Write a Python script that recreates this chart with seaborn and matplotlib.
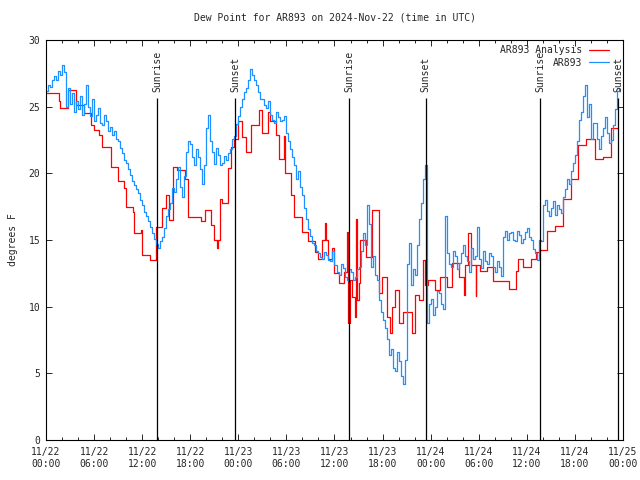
import matplotlib
matplotlib.use("Agg")
import matplotlib.pyplot as plt
import matplotlib.dates as mdates
import seaborn as sns
import numpy as np
import pandas as pd

start = pd.Timestamp("2024-11-22 00:00")

# AR893 observations, every quarter hour from 11/22 00:00 (degrees F)
# one row per hour
obs_values = [
    26.2, 26.6, 26.5, 27.0,  # 0
    27.3, 27.0, 27.7, 27.4,
    28.1, 27.6, 25.0, 26.4,
    25.2, 26.0, 24.6, 25.4,
    24.8, 25.8, 24.4, 25.2,
    26.6, 25.0, 24.3, 25.6,  # 5
    23.9, 24.4, 24.9, 23.8,
    23.6, 24.4, 23.9, 23.2,
    23.5, 22.9, 23.2, 22.6,
    22.4, 21.9, 21.5, 21.0,
    20.8, 20.3, 19.9, 19.4,  # 10
    19.1, 18.8, 18.5, 18.0,
    17.6, 17.1, 16.8, 16.4,
    16.0, 15.5, 15.1, 14.7,
    14.4, 14.9, 15.2, 15.9,
    16.8, 17.3, 17.8, 18.9,  # 15
    18.6, 19.6, 20.5, 19.0,
    18.2, 19.8, 21.6, 22.4,
    22.2, 21.2, 20.6, 21.8,
    21.2, 20.3, 19.2, 20.6,
    23.4, 24.4, 22.4, 21.6,  # 20
    20.7, 21.9, 21.4, 20.6,
    20.8, 21.3, 21.0, 21.5,
    21.8, 22.6, 22.8, 23.7,
    24.3, 25.0, 25.6, 26.1,
    26.4, 27.0, 27.8, 27.4,  # 25
    27.0, 26.6, 26.1, 25.6,
    25.6, 25.1, 24.9, 25.4,
    24.4, 24.0, 23.8, 24.6,
    24.2, 23.9, 24.0, 24.3,
    23.0, 22.4, 21.8, 21.2,  # 30
    20.6, 19.6, 20.2, 19.0,
    18.4, 17.4, 16.6, 15.8,
    15.3, 14.8, 14.6, 14.2,
    14.0, 13.7, 13.6, 14.1,
    13.9, 13.5, 13.4, 14.2,  # 35
    13.1, 12.6, 12.4, 13.2,
    12.9, 12.2, 12.0, 12.8,
    12.6, 12.0, 12.2, 12.8,
    13.0, 14.2, 15.5, 14.6,
    17.6, 16.2, 13.0, 13.8,  # 40
    12.4, 12.0, 10.5, 9.6,
    9.0, 8.4, 7.6, 6.4,
    6.8, 5.4, 5.2, 6.6,
    5.9, 4.8, 4.2, 6.0,
    13.2, 14.8, 11.6, 12.8,  # 45
    12.4, 14.6, 16.6, 17.8,
    19.6, 20.6, 8.8, 10.2,
    10.6, 9.4, 10.0, 11.2,
    11.0, 10.2, 9.8, 16.8,
    14.0, 13.2, 13.0, 14.2,  # 50
    13.8, 12.8, 13.3, 14.0,
    14.6, 13.8, 13.4, 12.6,
    14.4, 13.6, 13.8, 16.0,
    13.6, 12.9, 14.2, 13.4,
    13.2, 14.0, 13.8, 13.0,  # 55
    12.6, 13.4, 13.0, 12.3,
    15.2, 15.7, 15.0, 15.5,
    15.6, 15.0, 14.9, 15.7,
    15.4, 14.8, 15.1, 15.6,
    15.9, 15.2, 15.0, 14.3,  # 60
    14.0, 13.5, 15.0, 14.9,
    17.6, 18.0, 17.2, 16.8,
    17.4, 17.9, 16.9, 17.6,
    17.3, 17.0, 18.2, 18.8,
    19.6, 19.2, 20.2, 20.8,  # 65
    21.4, 22.4, 24.0, 24.6,
    25.8, 26.6, 24.2, 25.2,
    22.6, 23.8, 23.8, 22.6,
    21.8, 22.8, 23.4, 24.2,
    23.0, 22.3, 22.5, 23.6,  # 70
    24.8, 26.2, 26.4,
]
obs_hours = [0.25 * i for i in range(len(obs_values))]

# AR893 Analysis: hours since start where the value changes, and the value
ana_hours = [
    0.0, 1.6, 1.8, 2.7, 3.7, 4.8, 5.6, 6.0, 6.6, 7.0,
    8.1, 9.0, 9.7, 10.0, 10.8, 11.0, 11.8, 12.0, 13.0, 13.7,
    14.5, 15.0, 15.4, 15.8, 16.4, 17.4, 17.7, 19.4, 19.8, 20.6,
    21.0, 21.3, 21.5, 21.7, 21.9, 22.7, 23.1, 23.5, 23.9, 24.5,
    25.0, 25.6, 26.6, 26.9, 27.7, 27.9, 28.7, 29.1, 29.7, 29.8,
    30.6, 31.0, 31.9, 32.7, 33.6, 34.0, 34.4, 34.8, 35.0, 35.2,
    35.7, 36.0, 36.6, 37.2, 37.6, 37.7, 37.9, 38.2, 38.5, 38.7,
    38.8, 39.0, 39.2, 39.9, 40.7, 41.5, 41.9, 42.6, 42.9, 43.2,
    43.6, 44.0, 44.6, 45.7, 46.1, 46.5, 47.0, 47.3, 47.7, 48.6,
    49.2, 50.0, 50.6, 51.5, 52.2, 52.3, 52.6, 53.0, 53.6, 53.7,
    54.2, 55.0, 55.8, 57.8, 58.6, 58.9, 59.5, 60.5, 61.1, 61.7,
    62.5, 63.5, 64.5, 65.5, 66.4, 67.4, 68.5, 69.5, 70.5, 71.3,
]
ana_values = [
    26.0, 25.4, 24.9, 26.25, 25.1, 24.5, 23.6, 23.25, 22.9, 22.0,
    20.5, 19.4, 18.9, 17.5, 17.1, 15.5, 15.75, 13.9, 13.5, 16.0,
    17.4, 18.4, 16.5, 20.5, 20.25, 19.6, 16.75, 16.4, 17.25, 16.1,
    15.0, 14.4, 15.0, 18.1, 17.75, 20.4, 22.0, 22.6, 23.9, 22.75,
    21.6, 23.6, 24.75, 23.0, 24.6, 23.9, 22.9, 21.1, 22.8, 20.0,
    18.4, 16.75, 15.6, 14.9, 14.1, 13.6, 15.0, 16.25, 15.0, 13.6,
    14.4, 12.5, 11.8, 12.6, 15.6, 8.75, 12.0, 10.75, 9.25, 16.6,
    10.5, 11.75, 15.0, 13.75, 17.25, 11.0, 12.25, 9.25, 8.0, 10.0,
    11.25, 8.75, 9.6, 8.0, 10.9, 10.5, 13.5, 11.6, 12.0, 11.25,
    12.25, 11.45, 13.25, 12.25, 10.9, 13.1, 15.5, 13.1, 10.8, 13.1,
    12.7, 13.0, 11.9, 11.3, 12.7, 13.6, 13.0, 13.6, 14.1, 14.25,
    15.7, 16.05, 18.1, 19.6, 22.1, 22.6, 21.05, 21.2, 23.4, 23.4,
]

# sunrise / sunset events (hours since start)
sun_hours = [13.86, 23.6, 37.87, 47.4, 61.7, 71.4]
sun_labels = ["Sunrise", "Sunset", "Sunrise", "Sunset", "Sunrise", "Sunset"]

obs = pd.DataFrame({"time": start + pd.to_timedelta(obs_hours, unit="h"),
                    "dewpoint": obs_values})
ana = pd.DataFrame({"time": start + pd.to_timedelta(ana_hours, unit="h"),
                    "dewpoint": ana_values})

sns.set_style("ticks")
plt.rcParams["font.family"] = ["DejaVu Sans Mono"]
plt.rcParams["font.size"] = 7

fig = plt.figure(figsize=(6.4, 4.8), dpi=100)
ax = fig.add_axes([46 / 640, 40 / 480, 577 / 640, 400 / 480])

sns.lineplot(data=ana, x="time", y="dewpoint", ax=ax, color="#ff0000",
             lw=0.9, drawstyle="steps-post", label="AR893 Analysis")
sns.lineplot(data=obs, x="time", y="dewpoint", ax=ax, color="#1e90ff",
             lw=0.9, drawstyle="steps-post", label="AR893")

for h, lab in zip(sun_hours, sun_labels):
    t = start + pd.Timedelta(hours=h)
    ax.vlines(t, 0, 25.65, color="black", lw=0.9)
    ax.text(t, 26.1, lab, rotation=90, ha="center", va="bottom", fontsize=7)

ax.set_xlim(start, start + pd.Timedelta(hours=72))
ax.set_ylim(0, 30)
ax.set_yticks([0, 5, 10, 15, 20, 25, 30])
ax.xaxis.set_major_locator(mdates.HourLocator(byhour=[0, 6, 12, 18]))
ax.xaxis.set_minor_locator(mdates.HourLocator(byhour=range(0, 24, 2)))
ax.xaxis.set_major_formatter(mdates.DateFormatter("%m/%d\n%H:%M"))
ax.tick_params(which="both", direction="in", top=True, right=True,
               width=0.7, labelsize=7)
ax.tick_params(which="major", length=4)
ax.tick_params(which="minor", length=2)
ax.tick_params(axis="x", pad=5)
ax.tick_params(axis="y", pad=4)
for s in ax.spines.values():
    s.set_linewidth(0.8)
    s.set_color("black")

ax.set_xlabel("")
ax.set_ylabel("degrees F", fontsize=7, labelpad=8)
ax.set_title("Dew Point for AR893 on 2024-Nov-22 (time in UTC)",
             fontsize=7, pad=14)

ax.legend(loc="upper right", bbox_to_anchor=(0.9757, 0.9875), frameon=False,
          markerfirst=False, borderpad=0, borderaxespad=0, handlelength=2.1,
          handletextpad=0.7, labelspacing=0.27, fontsize=7)

fig.savefig("out.png", dpi=100)
